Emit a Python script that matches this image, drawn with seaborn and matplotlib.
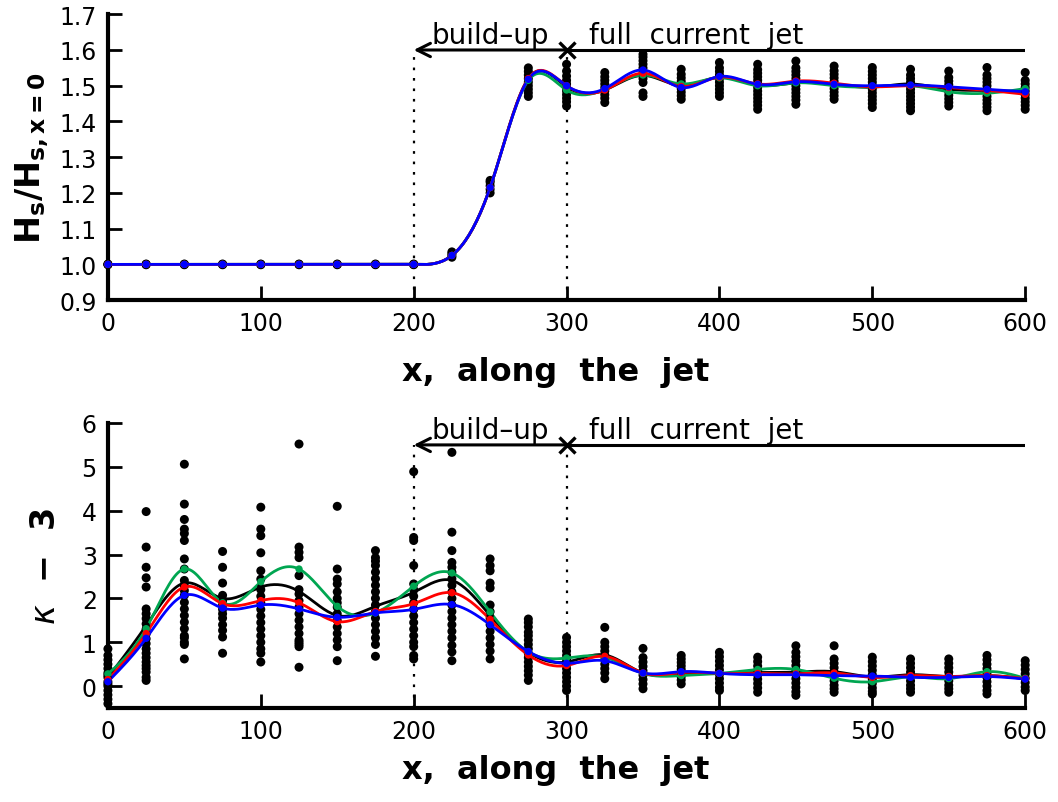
import numpy as np
import pandas as pd
import matplotlib
matplotlib.use("Agg")
import matplotlib.pyplot as plt
import seaborn as sns

# ---------------- data ----------------
x_nodes = [0, 25, 50, 75, 100, 125, 150, 175, 200, 225, 250, 275, 300,
           325, 350, 375, 400, 425, 450, 475, 500, 525, 550, 575, 600]

# ensemble members (black dots), top panel: Hs / Hs,x=0
hs_members = [
    [1.0, 1.001, 0.999], [1.0, 1.001, 0.999], [1.0, 1.001, 0.999],
    [1.0, 1.001, 0.999], [1.0, 1.001, 0.999], [1.0, 1.001, 0.999],
    [1.0, 1.001, 0.999], [1.0, 1.001, 0.999], [1.0, 1.001, 0.999],
    [1.02, 1.025, 1.03, 1.035],
    [1.20, 1.21, 1.22, 1.23, 1.235],
    [1.47, 1.48, 1.49, 1.50, 1.51, 1.52, 1.53, 1.54, 1.55],
    [1.443, 1.455, 1.465, 1.475, 1.485, 1.495, 1.505, 1.515, 1.527, 1.541, 1.56],
    [1.453, 1.465, 1.475, 1.485, 1.495, 1.505, 1.515, 1.525, 1.537],
    [1.47, 1.48, 1.509, 1.52, 1.53, 1.54, 1.55, 1.56, 1.57, 1.58, 1.588],
    [1.462, 1.472, 1.482, 1.492, 1.502, 1.512, 1.522, 1.532, 1.546],
    [1.47, 1.48, 1.49, 1.50, 1.51, 1.52, 1.53, 1.54, 1.55, 1.565],
    [1.434, 1.445, 1.455, 1.465, 1.475, 1.485, 1.495, 1.505, 1.515, 1.525, 1.535, 1.545, 1.56],
    [1.448, 1.46, 1.47, 1.48, 1.49, 1.50, 1.51, 1.52, 1.53, 1.54, 1.55, 1.569],
    [1.462, 1.472, 1.482, 1.492, 1.502, 1.512, 1.522, 1.532, 1.542, 1.555],
    [1.439, 1.45, 1.46, 1.47, 1.48, 1.49, 1.50, 1.51, 1.52, 1.53, 1.54, 1.551],
    [1.43, 1.44, 1.45, 1.46, 1.47, 1.48, 1.49, 1.50, 1.51, 1.52, 1.53, 1.546],
    [1.443, 1.453, 1.463, 1.473, 1.483, 1.493, 1.503, 1.513, 1.523, 1.541],
    [1.43, 1.44, 1.45, 1.46, 1.47, 1.48, 1.49, 1.50, 1.51, 1.52, 1.53, 1.551],
    [1.434, 1.445, 1.455, 1.465, 1.475, 1.485, 1.495, 1.505, 1.515, 1.537],
]

hs_black = [1, 1, 1, 1, 1, 1, 1, 1, 1, 1.025, 1.215, 1.52, 1.497, 1.488, 1.529,
            1.50, 1.524, 1.502, 1.508, 1.504, 1.496, 1.505, 1.49, 1.487, 1.482]
hs_red = [1, 1, 1, 1, 1, 1, 1, 1, 1, 1.025, 1.215, 1.52, 1.50, 1.488, 1.535,
          1.498, 1.524, 1.505, 1.513, 1.507, 1.497, 1.50, 1.495, 1.487, 1.476]
hs_green = [1, 1, 1, 1, 1, 1, 1, 1, 1, 1.025, 1.215, 1.515, 1.488, 1.49, 1.53,
            1.505, 1.522, 1.50, 1.508, 1.50, 1.497, 1.50, 1.483, 1.479, 1.492]
hs_blue = [1, 1, 1, 1, 1, 1, 1, 1, 1, 1.025, 1.215, 1.518, 1.50, 1.492, 1.544,
           1.495, 1.526, 1.504, 1.511, 1.504, 1.50, 1.502, 1.497, 1.49, 1.483]

# ensemble members (black dots), bottom panel: kappa - 3
kap_members = [
    [0.85, 0.7, 0.6, 0.5, 0.4, 0.3, 0.25, 0.2, 0.1, 0.05, 0.0, -0.1, -0.2, -0.3, -0.4],
    [3.98, 3.17, 2.71, 2.47, 2.26, 1.76, 1.65, 1.54, 1.42, 1.3, 1.19, 1.08, 0.97,
     0.85, 0.75, 0.65, 0.55, 0.47, 0.4, 0.32, 0.2, 0.13],
    [5.06, 4.15, 3.8, 3.58, 3.48, 3.32, 2.9, 2.67, 2.41, 2.29, 2.18, 2.07, 1.91,
     1.76, 1.61, 1.46, 1.31, 1.15, 1.1, 1.0, 0.95, 0.62],
    [3.07, 2.71, 2.35, 2.07, 1.95, 1.85, 1.75, 1.65, 1.55, 1.4, 1.27, 1.12, 0.75],
    [4.08, 3.58, 3.43, 3.04, 2.63, 2.44, 2.2, 2.05, 1.9, 1.75, 1.6, 1.45, 1.3,
     1.15, 1.0, 0.85, 0.75, 0.55],
    [5.52, 3.17, 3.05, 2.93, 2.52, 2.2, 2.1, 1.95, 1.8, 1.65, 1.5, 1.35, 1.2,
     1.05, 1.0, 0.95, 0.9, 0.43],
    [4.1, 2.67, 2.44, 2.33, 2.15, 2.0, 1.9, 1.8, 1.65, 1.5, 1.35, 1.2, 1.05, 0.9, 0.58],
    [3.09, 2.93, 2.85, 2.75, 2.6, 2.45, 2.3, 2.15, 2.0, 1.85, 1.7, 1.55, 1.4,
     1.25, 1.1, 0.95, 0.68],
    [4.89, 3.39, 3.32, 2.75, 2.33, 2.2, 2.05, 1.9, 1.75, 1.6, 1.45, 1.3, 1.15,
     1.0, 0.9, 0.7, 0.62],
    [5.33, 3.51, 3.09, 2.82, 2.71, 2.6, 2.45, 2.3, 2.15, 2.0, 1.85, 1.7, 1.55,
     1.4, 1.25, 1.1, 0.93, 0.78, 0.58],
    [2.9, 2.75, 2.63, 2.35, 2.24, 1.85, 1.7, 1.55, 1.4, 1.25, 1.1, 0.95, 0.8, 0.62],
    [1.53, 1.45, 1.35, 1.23, 1.15, 1.05, 0.95, 0.85, 0.75, 0.65, 0.55, 0.45, 0.35, 0.25, 0.13],
    [1.11, 1.0, 0.9, 0.8, 0.7, 0.6, 0.5, 0.4, 0.3, 0.2, 0.1, 0.0, -0.1],
    [1.34, 1.0, 0.9, 0.8, 0.7, 0.6, 0.5, 0.4, 0.3, 0.17],
    [0.86, 0.65, 0.55, 0.45, 0.35, 0.25, 0.15, 0.05, -0.06],
    [0.70, 0.62, 0.54, 0.46, 0.38, 0.30, 0.22, 0.14, 0.05],
    [0.77, 0.67, 0.57, 0.47, 0.37, 0.27, 0.17, 0.07, -0.03, -0.10],
    [0.66, 0.56, 0.46, 0.36, 0.26, 0.16, 0.06, -0.04, -0.14],
    [0.92, 0.77, 0.67, 0.57, 0.47, 0.37, 0.27, 0.17, 0.07, -0.03, -0.13, -0.21],
    [0.92, 0.62, 0.52, 0.42, 0.32, 0.22, 0.12, 0.02, -0.06, -0.14],
    [0.66, 0.56, 0.46, 0.36, 0.26, 0.16, 0.06, -0.04, -0.12, -0.18],
    [0.62, 0.52, 0.42, 0.32, 0.22, 0.12, 0.02, -0.06, -0.14],
    [0.62, 0.52, 0.42, 0.32, 0.22, 0.12, 0.02, -0.06, -0.14],
    [0.70, 0.60, 0.50, 0.40, 0.30, 0.20, 0.10, 0.0, -0.1, -0.18],
    [0.58, 0.48, 0.38, 0.28, 0.18, 0.08, -0.02, -0.10],
]

kap_black = [0.20, 1.38, 2.35, 2.0, 2.26, 2.16, 1.61, 1.82, 2.14, 2.41, 1.61, 0.77, 0.55,
             0.71, 0.30, 0.28, 0.29, 0.31, 0.32, 0.33, 0.21, 0.26, 0.22, 0.24, 0.17]
kap_red = [0.15, 1.20, 2.26, 1.88, 1.95, 1.90, 1.47, 1.70, 1.88, 2.13, 1.52, 0.71, 0.47,
           0.68, 0.30, 0.31, 0.29, 0.29, 0.28, 0.30, 0.20, 0.24, 0.22, 0.24, 0.17]
kap_green = [0.28, 1.31, 2.67, 1.90, 2.38, 2.67, 1.82, 1.67, 2.28, 2.58, 1.69, 0.78, 0.64,
             0.66, 0.29, 0.24, 0.29, 0.38, 0.38, 0.18, 0.10, 0.21, 0.17, 0.33, 0.18]
kap_blue = [0.10, 1.09, 2.07, 1.78, 1.85, 1.76, 1.57, 1.67, 1.75, 1.86, 1.40, 0.79, 0.52,
            0.58, 0.30, 0.33, 0.29, 0.26, 0.26, 0.24, 0.23, 0.20, 0.20, 0.22, 0.16]

series_names = ["black", "green", "red", "blue"]
series_colors = {"black": "#000000", "green": "#00a651", "red": "#ff0000", "blue": "#0000ff"}

buildup_start, buildup_end, x_end = 200, 300, 600
top_arrow_y, bot_arrow_y = 1.6, 5.5


# ---------------- helpers ----------------
def natural_spline(x, y, n_per=20):
    """Smooth rendering of the curve through the read node values."""
    x = np.asarray(x, float)
    y = np.asarray(y, float)
    n = len(x)
    h = np.diff(x)
    A = np.zeros((n, n))
    b = np.zeros(n)
    A[0, 0] = A[-1, -1] = 1.0
    for i in range(1, n - 1):
        A[i, i - 1] = h[i - 1]
        A[i, i] = 2 * (h[i - 1] + h[i])
        A[i, i + 1] = h[i]
        b[i] = 6 * ((y[i + 1] - y[i]) / h[i] - (y[i] - y[i - 1]) / h[i - 1])
    M = np.linalg.solve(A, b)
    xs, ys = [], []
    for i in range(n - 1):
        t = np.linspace(x[i], x[i + 1], n_per, endpoint=(i == n - 2))
        a = x[i + 1] - t
        c = t - x[i]
        s = (M[i] * a ** 3 + M[i + 1] * c ** 3) / (6 * h[i]) \
            + (y[i] / h[i] - M[i] * h[i] / 6) * a + (y[i + 1] / h[i] - M[i + 1] * h[i] / 6) * c
        xs.append(t)
        ys.append(s)
    return np.concatenate(xs), np.concatenate(ys)


def members_frame(members):
    rows = []
    for xv, vals in zip(x_nodes, members):
        for v in vals:
            rows.append((xv, v))
    return pd.DataFrame(rows, columns=["x", "y"])


def curves_frames(series):
    smooth_rows, node_rows = [], []
    for name, vals in zip(series_names, series):
        xs, ys = natural_spline(x_nodes, vals)
        smooth_rows.append(pd.DataFrame({"x": xs, "y": ys, "s": name}))
        node_rows.append(pd.DataFrame({"x": x_nodes, "y": vals, "s": name}))
    return pd.concat(smooth_rows, ignore_index=True), pd.concat(node_rows, ignore_index=True)


# ---------------- figure ----------------
sns.set_theme(style="ticks")
plt.rcParams["font.family"] = ["DejaVu Sans"]
plt.rcParams["mathtext.fontset"] = "dejavusans"
for key in ["text.color", "axes.labelcolor", "xtick.color", "ytick.color", "axes.edgecolor"]:
    plt.rcParams[key] = "black"

fig = plt.figure(figsize=(10.58, 8.03), dpi=100)
ax1 = fig.add_axes([0.102, 0.625, 0.867, 0.356])
ax2 = fig.add_axes([0.102, 0.117, 0.867, 0.355])


def draw_panel(ax, members, series, arrow_y, ylim, yticks, yfmt, text_off, xlabpad):
    mf = members_frame(members)
    sns.scatterplot(data=mf, x="x", y="y", ax=ax, color="black", s=42,
                    edgecolor="none", legend=False, clip_on=False, zorder=2)
    smooth, nodes = curves_frames(series)
    for name in series_names:
        sub = smooth[smooth["s"] == name]
        sns.lineplot(data=sub, x="x", y="y", ax=ax, color=series_colors[name],
                     lw=2.0, sort=False, estimator=None, legend=False, zorder=3)
        subn = nodes[nodes["s"] == name]
        sns.scatterplot(data=subn, x="x", y="y", ax=ax, color=series_colors[name],
                        s=28, edgecolor="none", legend=False, clip_on=False, zorder=4)

    ax.set_xlim(0, x_end)
    ax.set_ylim(*ylim)
    ax.set_xticks(np.arange(0, 601, 100))
    ax.set_yticks(yticks)
    ax.set_yticklabels([yfmt.format(t) for t in yticks])
    # region markers
    ax.vlines([buildup_start, buildup_end], ylim[0], arrow_y, colors="black",
              linestyles=(0, (1.2, 3.5)), lw=1.6, zorder=1)
    ax.annotate("", xy=(buildup_start, arrow_y), xytext=(buildup_end, arrow_y),
                arrowprops=dict(arrowstyle="->,head_length=0.8,head_width=0.4",
                                lw=2.2, color="black", shrinkA=0, shrinkB=0))
    ax.plot([buildup_end, x_end], [arrow_y, arrow_y], color="black", lw=2.2)
    ax.plot([buildup_end], [arrow_y], marker="x", ms=11, mew=2.4, color="black")
    ax.annotate("build\u2013up", xy=((buildup_start + buildup_end) / 2, arrow_y),
                xytext=(0, text_off), textcoords="offset points",
                ha="center", va="bottom", fontsize=20)
    ax.annotate("full  current  jet", xy=(385, arrow_y),
                xytext=(0, text_off), textcoords="offset points",
                ha="center", va="bottom", fontsize=20)

    for sp in ["top", "right"]:
        ax.spines[sp].set_visible(False)
    for sp in ["left", "bottom"]:
        ax.spines[sp].set_linewidth(3)
    ax.tick_params(direction="in", length=10, width=2, labelsize=17, pad=8)
    ax.set_xlabel("x,  along  the  jet", fontsize=23, fontweight="bold",
                  labelpad=xlabpad, x=0.488)


draw_panel(ax1, hs_members, [hs_black, hs_green, hs_red, hs_blue], top_arrow_y,
           (0.9, 1.7), np.round(np.arange(0.9, 1.71, 0.1), 1), "{:.1f}", 1, 15)
ax1.set_ylabel(r"$\mathbf{H_s/H_{s,x=0}}$", fontsize=24, labelpad=6)

draw_panel(ax2, kap_members, [kap_black, kap_green, kap_red, kap_blue], bot_arrow_y,
           (-0.5, 6.0), np.arange(0, 7, 1), "{:d}", 1, 8)
ax2.set_ylabel("$\\kappa$  \u2212  3", fontsize=24, fontweight="bold", labelpad=14)

fig.savefig("out.png", dpi=100)
